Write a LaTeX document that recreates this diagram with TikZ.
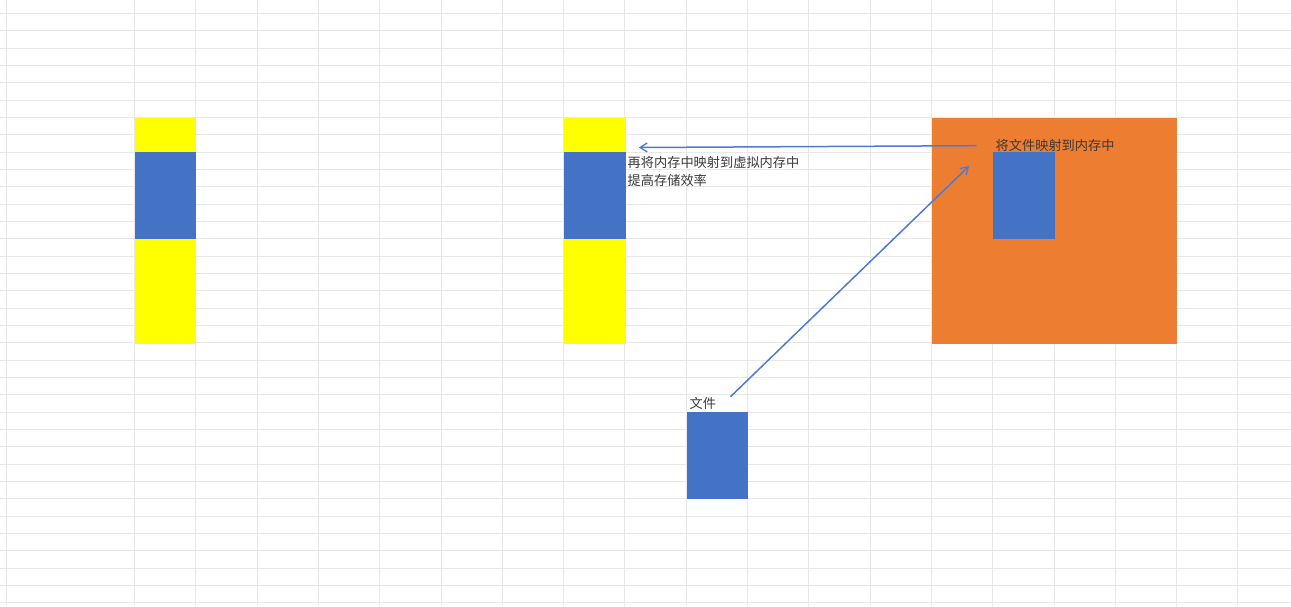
\documentclass[tikz,border=0pt]{standalone}
\usepackage{fontspec}
\newfontfamily\cjk{Noto Sans CJK SC}
\usetikzlibrary{arrows.meta}
\definecolor{gridc}{HTML}{E8E8E8}
\definecolor{blk}{HTML}{4472C4}
\definecolor{ylw}{HTML}{FFFF00}
\definecolor{org}{HTML}{ED7D31}
\definecolor{arr}{HTML}{4D7BD0}
\definecolor{txt}{HTML}{3A3A3A}
\tikzset{
  conn/.style={draw=arr,line width=1.5pt,-{Straight Barb[length=7pt,width=9pt,line width=1.3pt]}},
  lbl/.style={inner sep=0pt,anchor=west,font=\cjk\fontsize{13.2}{18}\selectfont,text=txt,align=left}
}
\begin{document}
\begin{tikzpicture}[x=1pt,y=-1pt]
\useasboundingbox (0,0) rectangle (1291,606);
\fill[white] (0,0) rectangle (1291,606);
% grid
\foreach \k in {0,...,34} {\draw[gridc,line width=0.9pt] (0,13.3+17.34*\k) -- (1291,13.3+17.34*\k);}
\draw[gridc,line width=0.9pt] (6.5,0) -- (6.5,606);
\foreach \k in {0,...,18} {\draw[gridc,line width=0.9pt] (134.5+61.3*\k,0) -- (134.5+61.3*\k,606);}
% left bar
\fill[ylw] (134.5,117.5) rectangle (196,343.5);
\fill[blk] (134.5,152.2) rectangle (196,239.2);
% middle bar
\fill[ylw] (564,117.5) rectangle (625.5,343.5);
\fill[blk] (564,152.2) rectangle (625.5,239.2);
% orange
\fill[org] (931.6,117.5) rectangle (1177,343.5);
\fill[blk] (993,152.2) rectangle (1054.5,239.2);
% file
\fill[blk] (686.5,412.3) rectangle (748,498.8);
% labels
\node[lbl] (t1) at (627.5,171) {再将内存中映射到虚拟内存中\\提高存储效率};
\node[lbl] (t2) at (995.5,145) {将文件映射到内存中};
\node[lbl] (t3) at (689.5,403.5) {文件};
% arrows
\coordinate (h1) at (976.5,145.7);
\coordinate (h2) at (639,147.5);
\coordinate (d1) at (730.5,396.7);
\coordinate (d2) at (969,166);
\draw[conn] (h1) -- (h2);
\draw[conn] (d1) -- (d2);
\end{tikzpicture}
\end{document}
